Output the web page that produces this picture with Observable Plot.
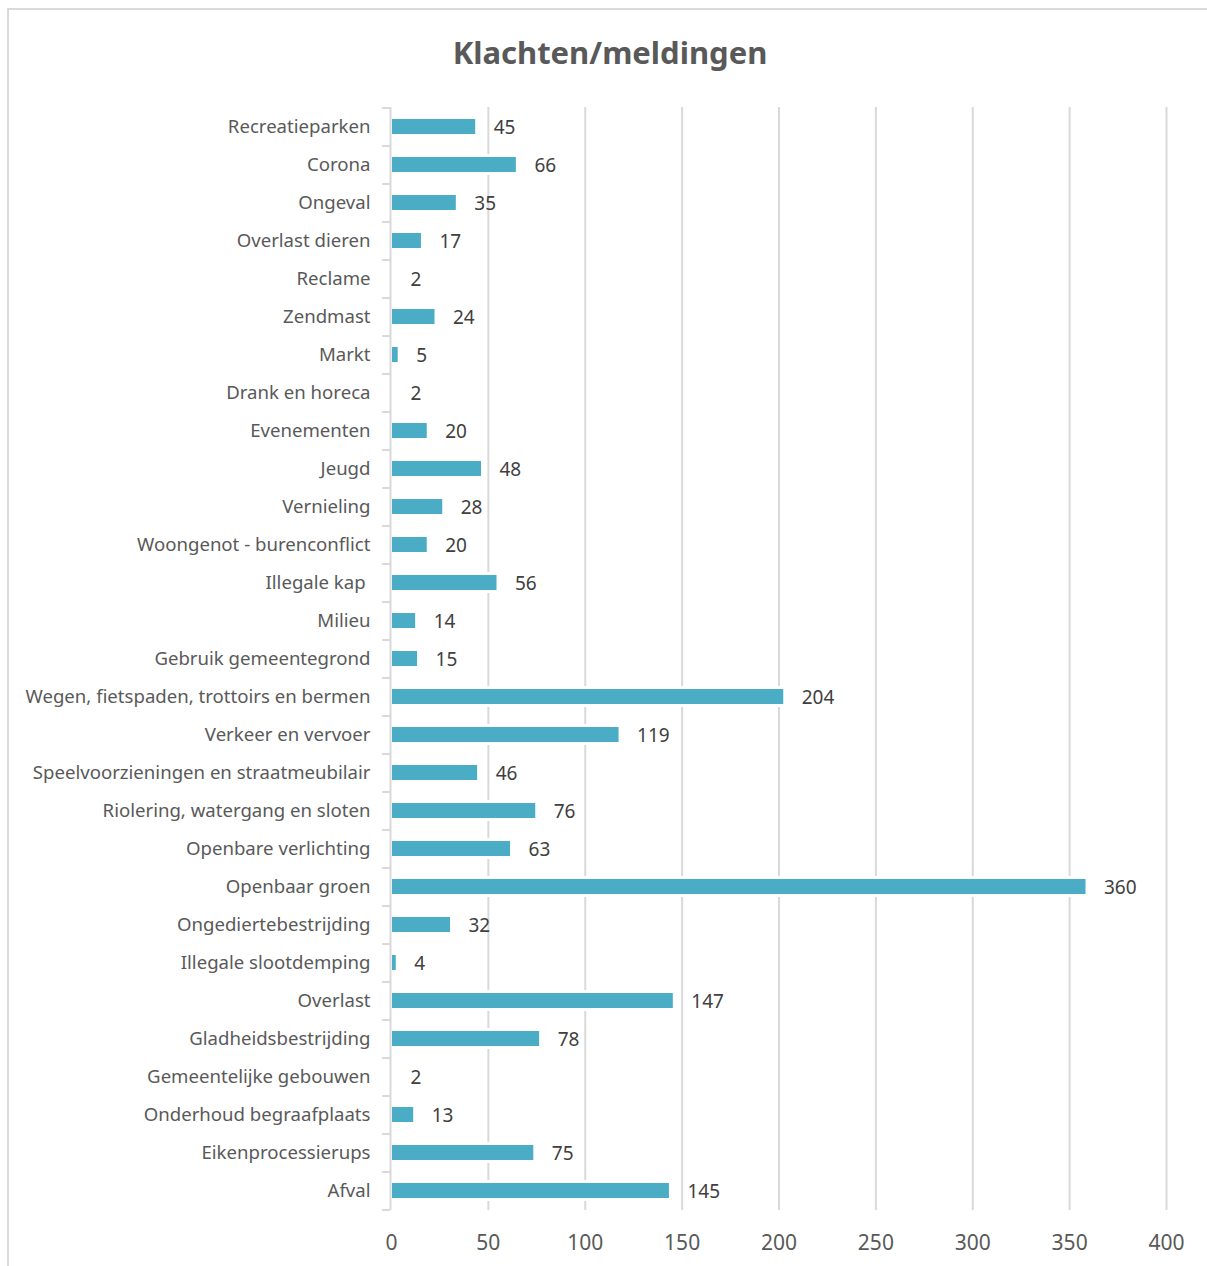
<!DOCTYPE html>
<html>
<head>
<meta charset="utf-8">
<script src="https://cdn.jsdelivr.net/npm/d3@7"></script>
<script src="https://cdn.jsdelivr.net/npm/@observablehq/plot@0.6"></script>
<style>
  html, body { margin: 0; padding: 0; background: #fff; overflow: hidden; }
  #wrap { position: relative; width: 1207px; height: 1266px; }
  #frame { position: absolute; left: 7px; top: 8px; width: 1230px; height: 1290px; border: 2px solid #d9d9d9; box-sizing: border-box; pointer-events: none; }
  #title { height: 90px; box-sizing: border-box; padding-top: 34px; padding-left: 13px; text-align: center;
           font-family: "Noto Sans", sans-serif; font-weight: bold; font-size: 31px; line-height: 36px; color: #595959; }
  #chart svg { display: block; }
</style>
</head>
<body>
<div id="wrap">
  <div id="frame"></div>
  <div id="title">Klachten/meldingen</div>
  <div id="chart"></div>
</div>
<script>
const categories = [
  "Recreatieparken", "Corona", "Ongeval", "Overlast dieren", "Reclame", "Zendmast", "Markt",
  "Drank en horeca", "Evenementen", "Jeugd", "Vernieling", "Woongenot - burenconflict",
  "Illegale kap\u00a0", "Milieu", "Gebruik gemeentegrond", "Wegen, fietspaden, trottoirs en bermen",
  "Verkeer en vervoer", "Speelvoorzieningen en straatmeubilair", "Riolering, watergang en sloten",
  "Openbare verlichting", "Openbaar groen", "Ongediertebestrijding", "Illegale slootdemping",
  "Overlast", "Gladheidsbestrijding", "Gemeentelijke gebouwen", "Onderhoud begraafplaats",
  "Eikenprocessierups", "Afval"
];
const values = [45, 66, 35, 17, 2, 24, 5, 2, 20, 48, 28, 20, 56, 14, 15, 204, 119, 46, 76, 63, 360, 32, 4, 147, 78, 2, 13, 75, 145];
const xTicks = [0, 50, 100, 150, 200, 250, 300, 350, 400];

const data = categories.map((c, i) => ({category: c, value: values[i]}));
const lastCat = [categories[categories.length - 1]];

const H = 1176, mTop = 17, mBottom = 56;
const step = (H - mTop - mBottom) / categories.length;

const chart = Plot.plot({
  width: 1207,
  height: H,
  marginLeft: 391,
  marginRight: 41,
  marginTop: mTop,
  marginBottom: mBottom,
  style: {fontFamily: "Noto Sans, sans-serif", color: "#595959", background: "transparent"},
  x: {domain: [0, 400], label: null},
  y: {domain: categories, paddingInner: 0.6, paddingOuter: 0.3, label: null},
  marks: [
    Plot.ruleX(xTicks.filter(d => d > 0), {stroke: "#d9d9d9", strokeWidth: 2}),
    Plot.barX(data, {y: "category", x: "value", fill: "white", insetTop: -3, insetBottom: -3}),
    Plot.barX(data, {y: "category", x: "value", fill: "#4BACC6", insetLeft: 1, insetRight: 3}),
    Plot.text(data, {y: "category", x: "value", text: d => String(d.value), dx: 15, dy: 1, textAnchor: "start", fontSize: 19, fill: "#404040"}),
    Plot.ruleX([0], {stroke: "#d9d9d9", strokeWidth: 2, dx: -1}),
    Plot.ruleY(categories, {y: d => d, x1: 0, x2: 0, insetLeft: -8, dx: -1, dy: -step / 2, stroke: "#d9d9d9", strokeWidth: 2}),
    Plot.ruleY(lastCat, {y: d => d, x1: 0, x2: 0, insetLeft: -8, dx: -1, dy: step / 2, stroke: "#d9d9d9", strokeWidth: 2}),
    Plot.axisY({tickSize: 0, tickPadding: 21, fontSize: 18.6, fill: "#595959"}),
    Plot.axisX({ticks: xTicks, tickSize: 0, tickPadding: 25, fontSize: 21, fill: "#595959"})
  ]
});
document.getElementById("chart").appendChild(chart);
</script>
</body>
</html>
